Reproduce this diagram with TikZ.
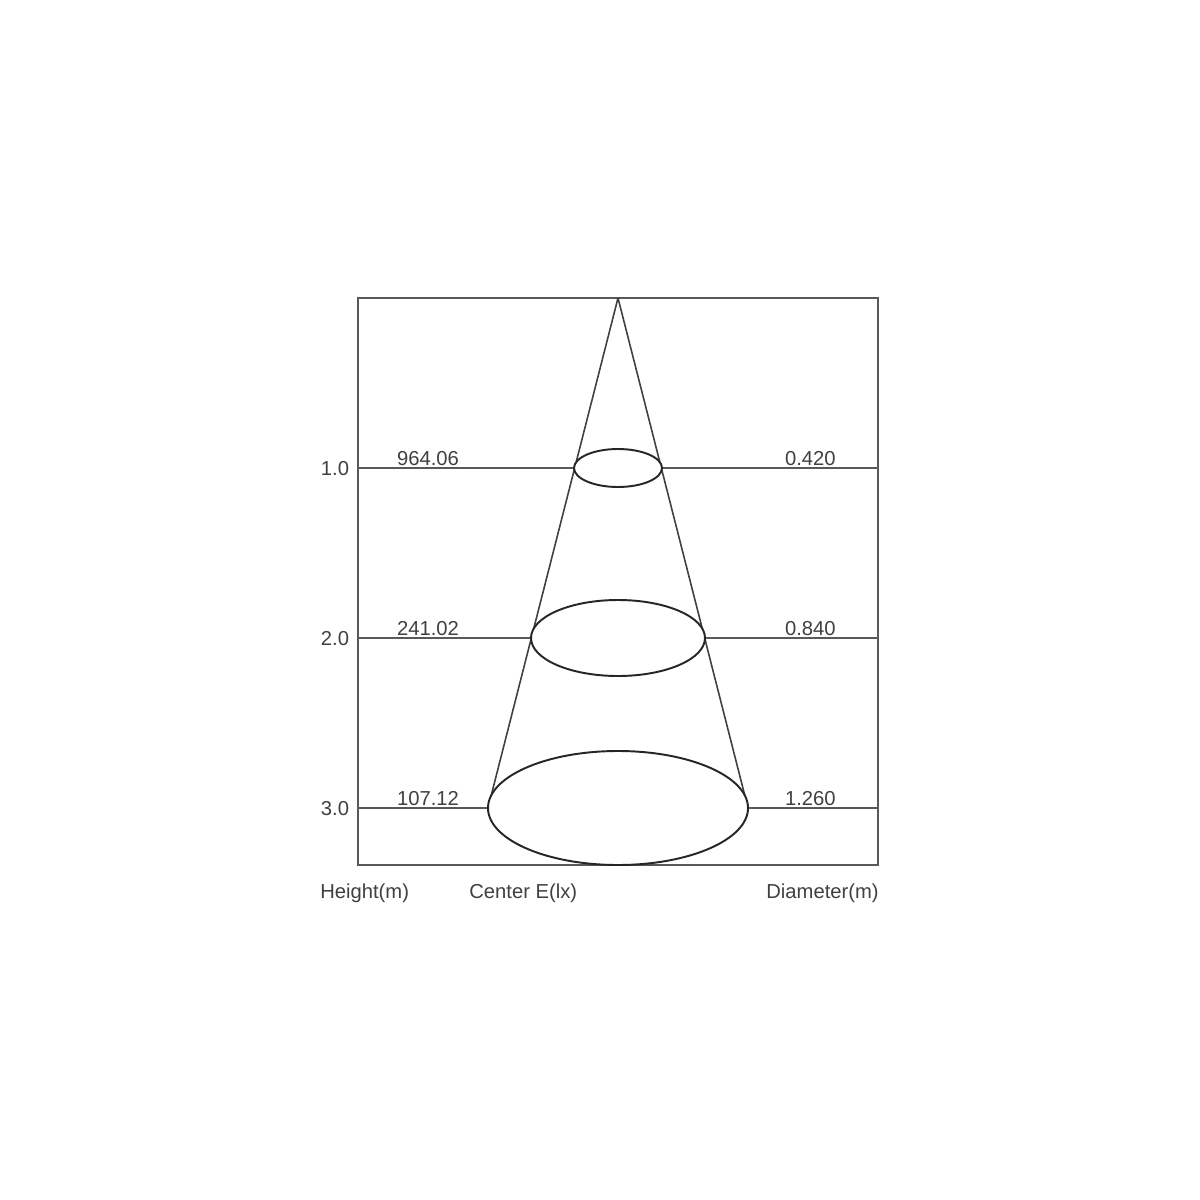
\documentclass[tikz,border=0pt]{standalone}
\usepackage{fontspec}
\setmainfont{Liberation Sans}
\begin{document}
\begin{tikzpicture}[x=0.02cm,y=-0.02cm,
  frame/.style={draw=black!65,line width=1.1pt},
  grid/.style={draw=black!65,line width=0.9pt},
  cone/.style={draw=black!75,line width=0.9pt},
  spot/.style={draw=black!85,line width=1.1pt},
  lab/.style={font=\fontsize{11.5}{13}\selectfont,text=black!75,inner sep=0pt}]
\useasboundingbox[fill=white] (0,0) rectangle (1200,1200);
% frame
\draw[frame] (358,298) rectangle (878,865);
\coordinate (apex) at (618,298);
% ellipses
\coordinate (e1) at (618,468);
\coordinate (e2) at (618,638);
\coordinate (e3) at (618,808);
% cone
\draw[cone] (apex) -- (488,808);
\draw[cone] (apex) -- (748,808);
% horizontal lines
\draw[grid] (358,468) -- (574,468);
\draw[grid] (662,468) -- (878,468);
\draw[grid] (358,638) -- (531,638);
\draw[grid] (705,638) -- (878,638);
\draw[grid] (358,808) -- (488,808);
\draw[grid] (748,808) -- (878,808);
\fill[white] (e3) ellipse [x radius=130, y radius=57];
\fill[white] (e2) ellipse [x radius=87, y radius=38];
\fill[white] (e1) ellipse [x radius=44, y radius=19];
\draw[spot] (e1) ellipse [x radius=44, y radius=19];
\draw[spot] (e2) ellipse [x radius=87, y radius=38];
\draw[spot] (e3) ellipse [x radius=130, y radius=57];
% labels
\node[lab,anchor=base] (h1) at (335,475) {1.0};
\node[lab,anchor=base] (h2) at (335,645) {2.0};
\node[lab,anchor=base] (h3) at (335,815) {3.0};
\node[lab,anchor=base] (c1) at (428,465) {964.06};
\node[lab,anchor=base] (c2) at (428,635) {241.02};
\node[lab,anchor=base] (c3) at (428,805) {107.12};
\node[lab,anchor=base east] (d1) at (836,465) {0.420};
\node[lab,anchor=base east] (d2) at (836,635) {0.840};
\node[lab,anchor=base east] (d3) at (836,805) {1.260};
\node[lab,anchor=base west] (t1) at (320,898) {Height(m)};
\node[lab,anchor=base west] (t2) at (469,898) {Center E(lx)};
\node[lab,anchor=base east] (t3) at (879,898) {Diameter(m)};
\end{tikzpicture}
\end{document}
